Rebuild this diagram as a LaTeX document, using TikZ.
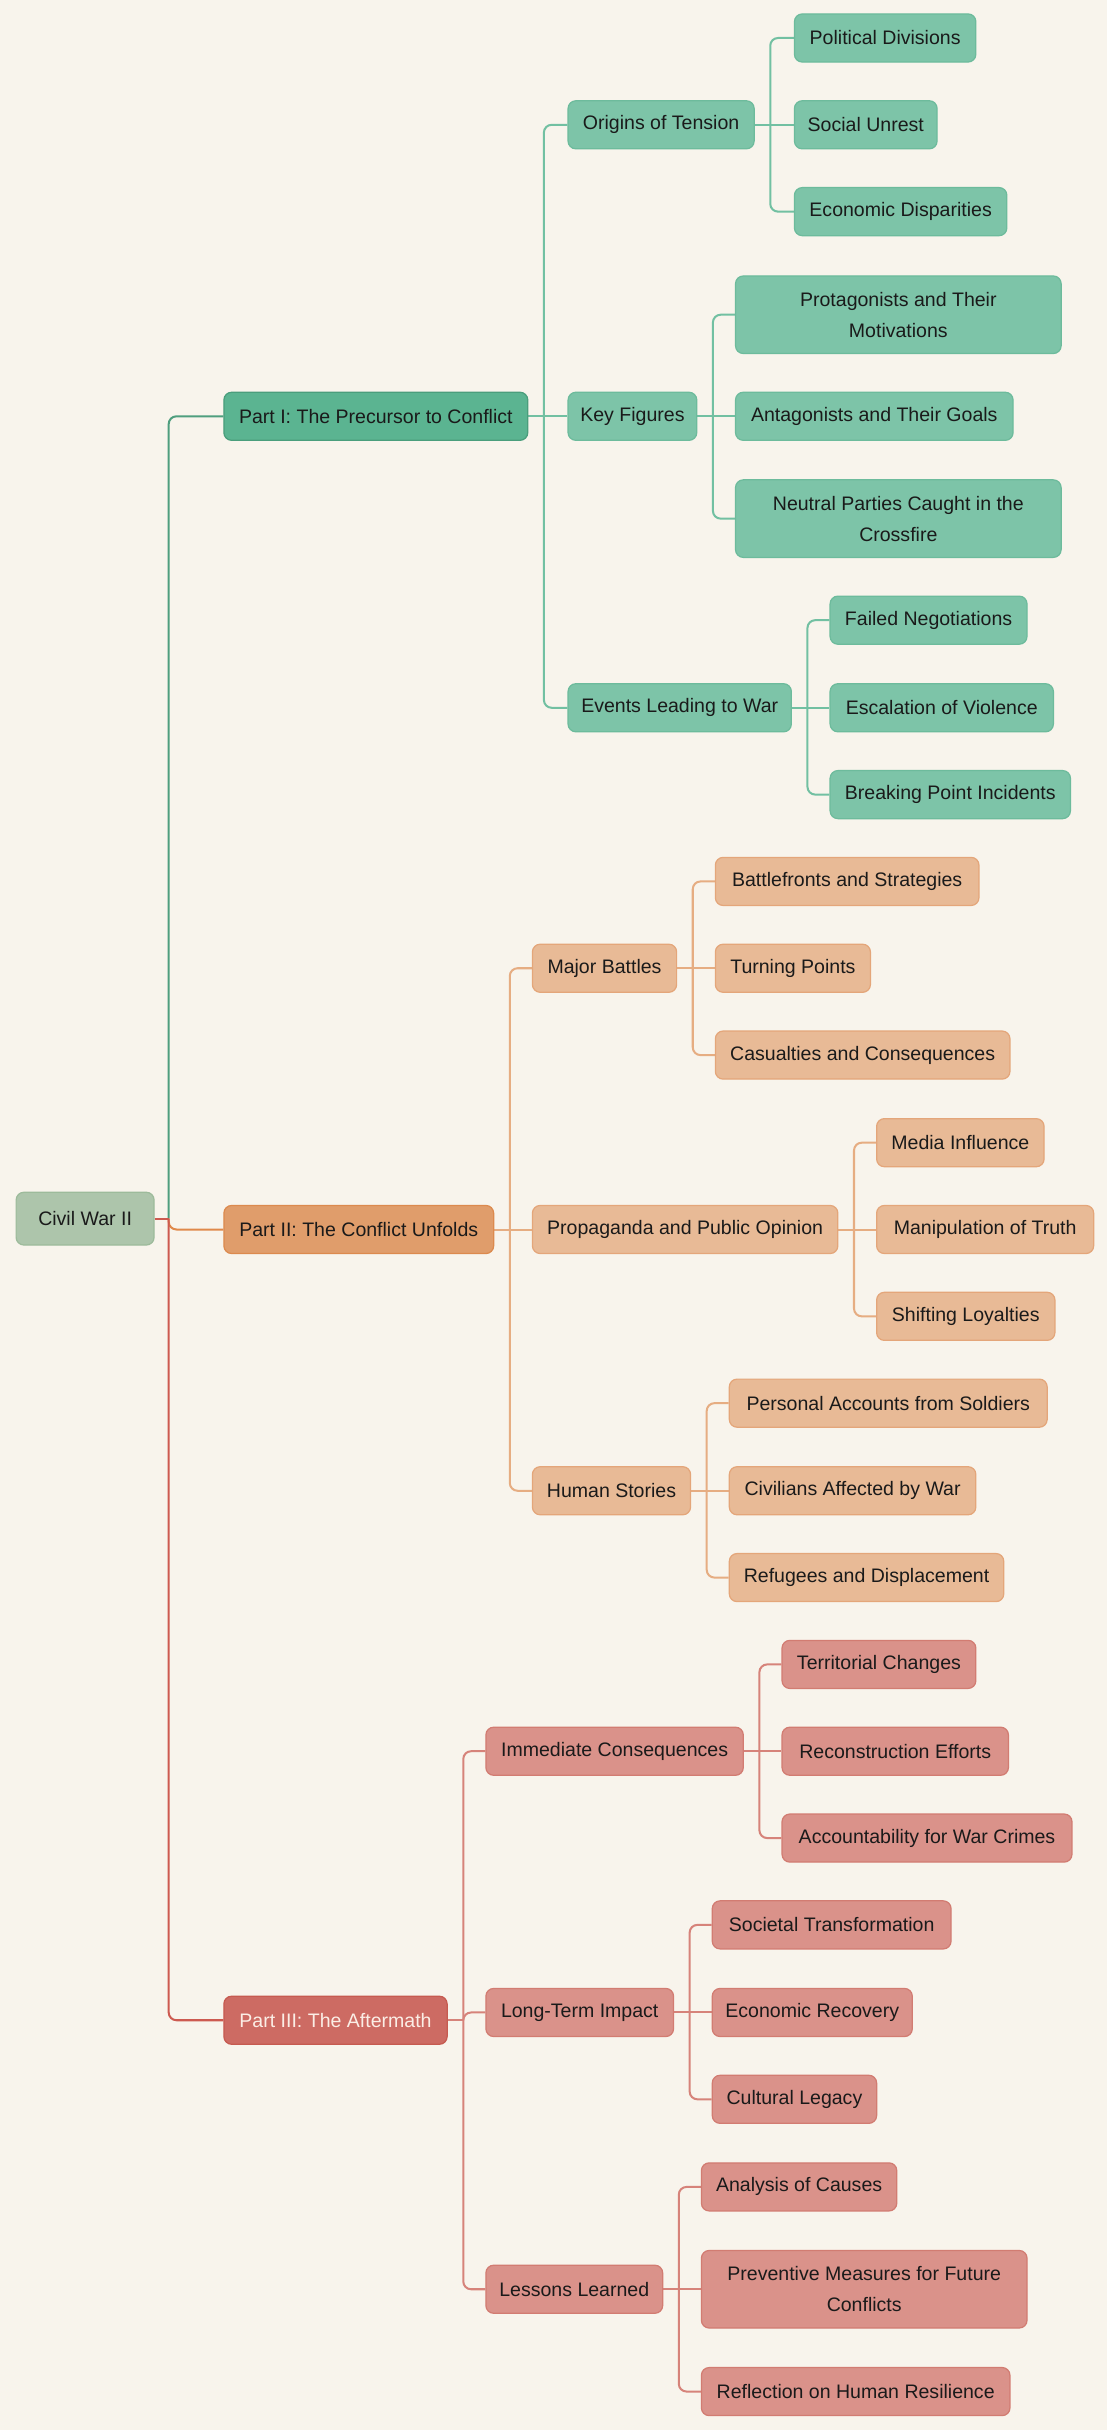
\documentclass[tikz,border=0pt]{standalone}
\usepackage{fontspec}
\setmainfont{Liberation Sans}
\definecolor{bg}{HTML}{F8F4EC}
\definecolor{rootf}{HTML}{ADC5AB}\definecolor{rootd}{HTML}{9DBB9B}
\definecolor{gA}{HTML}{5BB491}\definecolor{gAd}{HTML}{4A9E7C}
\definecolor{gB}{HTML}{7DC4A8}\definecolor{gBd}{HTML}{6DBB9C}
\definecolor{oA}{HTML}{E09D6B}\definecolor{oAd}{HTML}{DC8A4E}
\definecolor{oB}{HTML}{E8BA96}\definecolor{oBd}{HTML}{E4A67A}
\definecolor{rA}{HTML}{CD6B63}\definecolor{rAd}{HTML}{C65A50}
\definecolor{rB}{HTML}{DA928A}\definecolor{rBd}{HTML}{D27C72}
\definecolor{gL}{HTML}{4F9E7E}\definecolor{gl}{HTML}{72C0A2}
\definecolor{oL}{HTML}{E0894B}\definecolor{ol}{HTML}{E6AD82}
\definecolor{rL}{HTML}{CD5A50}\definecolor{rl}{HTML}{D6837A}
\definecolor{txt}{HTML}{1A1A1A}
\definecolor{ltxt}{HTML}{FBEEE6}
\pgfdeclarelayer{back}\pgfdeclarelayer{mid}
\pgfsetlayers{back,mid,main}
\tikzset{
  box/.style={rounded corners=5pt, minimum height=31pt, inner xsep=0pt, inner ysep=0pt,
    anchor=west, font=\fontsize{12.6}{20}\selectfont, text=txt, line width=0.8pt},
  rootbox/.style={box, fill=rootf, draw=rootd, minimum height=34pt},
  gpart/.style={box, fill=gA, draw=gAd},
  gsub/.style={box, fill=gB, draw=gBd},
  opart/.style={box, fill=oA, draw=oAd},
  osub/.style={box, fill=oB, draw=oBd},
  rpart/.style={box, fill=rA, draw=rAd, text=ltxt},
  rsub/.style={box, fill=rB, draw=rBd},
  twoline/.style={minimum height=50pt, align=center},
  conn/.style={line width=1.3pt, rounded corners=5pt},
  sconn/.style={line width=1.3pt},
}
\newcommand{\cn}[3]{\draw[sconn,#3] (#1.east) -- ([xshift=10pt]#1.east);
  \draw[conn,#3] ([xshift=10pt]#1.east) |- (#2.west);}
\newcommand{\sn}[3]{\draw[sconn,#3] (#1.east) -- (#2.west);}
\newcommand{\rcn}[2]{\draw[sconn,#2] (root.east) -- ([xshift=9pt]root.east);
  \draw[conn,#2] ([xshift=9pt]root.east) |- (#1.west);}
\begin{document}
\begin{tikzpicture}[x=1pt,y=-1pt]
\begin{pgfonlayer}{back}
\fill[bg] (0,0) rectangle (714,1567.3);
\end{pgfonlayer}
\useasboundingbox (0,0) rectangle (714,1567.3);
% nodes
\node[rootbox, minimum width=89pt] (root) at (10,786) {Civil War II};
\node[gpart, minimum width=196pt] (p1) at (144,268.5) {Part I: The Precursor to Conflict};
\node[opart, minimum width=174pt] (p2) at (144,793) {Part II: The Conflict Unfolds};
\node[rpart, minimum width=144pt] (p3) at (144,1303) {Part III: The Aftermath};
% part I
\node[gsub, minimum width=120pt] (ot) at (366,80.5) {Origins of Tension};
\node[gsub, minimum width=83pt] (kf) at (366,268.5) {Key Figures};
\node[gsub, minimum width=144pt] (el) at (366,456.5) {Events Leading to War};
\node[gsub, minimum width=117pt] (pd) at (512,24.5) {Political Divisions};
\node[gsub, minimum width=92pt] (su) at (512,80.5) {Social Unrest};
\node[gsub, minimum width=137pt] (ed) at (512,136.5) {Economic Disparities};
\node[gsub, twoline, minimum width=210pt] (pr) at (474,203) {Protagonists and Their\\Motivations};
\node[gsub, minimum width=179pt] (an) at (474,268.5) {Antagonists and Their Goals};
\node[gsub, twoline, minimum width=210pt] (ne) at (474,334.5) {Neutral Parties Caught in the\\Crossfire};
\node[gsub, minimum width=127pt] (fn) at (535,400) {Failed Negotiations};
\node[gsub, minimum width=144pt] (ev) at (535,456.5) {Escalation of Violence};
\node[gsub, minimum width=155pt] (bp) at (535,512.5) {Breaking Point Incidents};
% part II
\node[osub, minimum width=93pt] (mb) at (343,624.5) {Major Battles};
\node[osub, minimum width=197pt] (pp) at (343,793) {Propaganda and Public Opinion};
\node[osub, minimum width=102pt] (hs) at (343,961.5) {Human Stories};
\node[osub, minimum width=170pt] (bs) at (461,568.5) {Battlefronts and Strategies};
\node[osub, minimum width=100pt] (tp) at (461,624.5) {Turning Points};
\node[osub, minimum width=190pt] (cc) at (461,680.5) {Casualties and Consequences};
\node[osub, minimum width=108pt] (mi) at (565,737) {Media Influence};
\node[osub, minimum width=140pt] (mt) at (565,793) {Manipulation of Truth};
\node[osub, minimum width=115pt] (sl) at (565,849) {Shifting Loyalties};
\node[osub, minimum width=205pt] (pa) at (470,905) {Personal Accounts from Soldiers};
\node[osub, minimum width=159pt] (ca) at (470,961.5) {Civilians Affected by War};
\node[osub, minimum width=177pt] (rd) at (470,1017.5) {Refugees and Displacement};
% part III
\node[rsub, minimum width=166pt] (ic) at (313,1129.5) {Immediate Consequences};
\node[rsub, minimum width=121pt] (lt) at (313,1298) {Long-Term Impact};
\node[rsub, minimum width=114pt] (ll) at (313,1476.5) {Lessons Learned};
\node[rsub, minimum width=125pt] (tc) at (504,1073.5) {Territorial Changes};
\node[rsub, minimum width=146pt] (re) at (504,1129.5) {Reconstruction Efforts};
\node[rsub, minimum width=187pt] (aw) at (504,1185.5) {Accountability for War Crimes};
\node[rsub, minimum width=154pt] (st) at (459,1241.5) {Societal Transformation};
\node[rsub, minimum width=129pt] (er) at (459,1298) {Economic Recovery};
\node[rsub, minimum width=106pt] (cl) at (459,1354) {Cultural Legacy};
\node[rsub, minimum width=126pt] (ac) at (452,1410.5) {Analysis of Causes};
\node[rsub, twoline, minimum width=210pt] (pm) at (452,1476.5) {Preventive Measures for Future\\Conflicts};
\node[rsub, minimum width=199pt] (rh) at (452,1542.5) {Reflection on Human Resilience};
% connectors
\begin{pgfonlayer}{mid}
\rcn{p1}{gL}
\rcn{p2}{oL}
\rcn{p3}{rL}
\cn{p1}{ot}{gl}\sn{p1}{kf}{gl}\cn{p1}{el}{gl}
\cn{ot}{pd}{gl}\sn{ot}{su}{gl}\cn{ot}{ed}{gl}
\cn{kf}{pr}{gl}\sn{kf}{an}{gl}\cn{kf}{ne}{gl}
\cn{el}{fn}{gl}\sn{el}{ev}{gl}\cn{el}{bp}{gl}
\cn{p2}{mb}{ol}\sn{p2}{pp}{ol}\cn{p2}{hs}{ol}
\cn{mb}{bs}{ol}\sn{mb}{tp}{ol}\cn{mb}{cc}{ol}
\cn{pp}{mi}{ol}\sn{pp}{mt}{ol}\cn{pp}{sl}{ol}
\cn{hs}{pa}{ol}\sn{hs}{ca}{ol}\cn{hs}{rd}{ol}
\cn{p3}{ic}{rl}\cn{p3}{lt}{rl}\cn{p3}{ll}{rl}
\cn{ic}{tc}{rl}\sn{ic}{re}{rl}\cn{ic}{aw}{rl}
\cn{lt}{st}{rl}\sn{lt}{er}{rl}\cn{lt}{cl}{rl}
\cn{ll}{ac}{rl}\sn{ll}{pm}{rl}\cn{ll}{rh}{rl}
\end{pgfonlayer}
\end{tikzpicture}
\end{document}
